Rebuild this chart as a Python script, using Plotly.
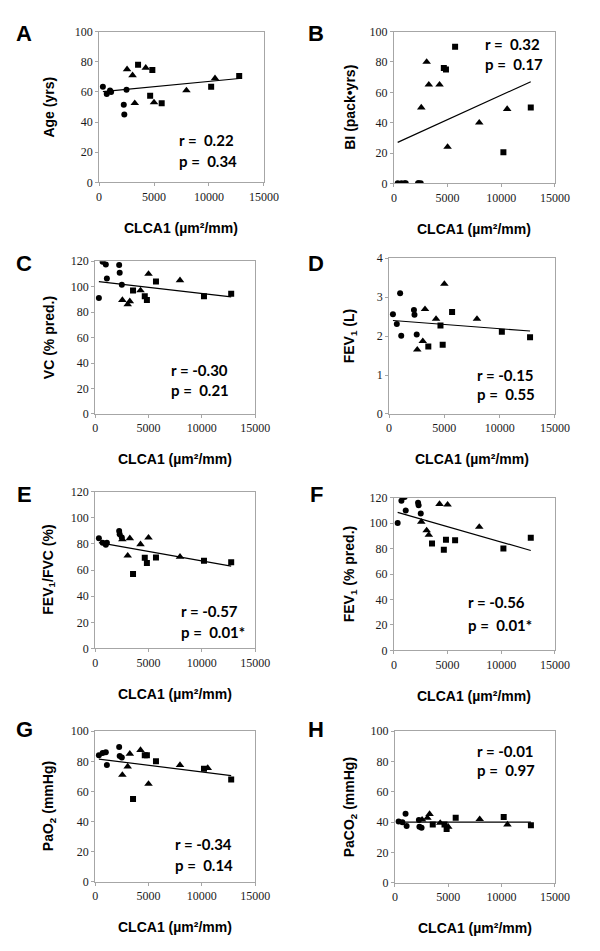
import plotly.graph_objects as go

# ---------------- data ----------------
x_circle = [350, 700, 1000, 1100, 2250, 2300, 2500]
x_triangle = [2550, 3050, 3250, 4250, 5000, 7950, 10550]
x_square = [3550, 4650, 4850, 5700, 10200, 12750]

age_circle = [63.5, 58.7, 61, 60, 51.5, 45, 61.5]
age_triangle = [75, 71, 52.5, 76, 53, 61, 69]
age_square = [78, 57.5, 74.5, 52.5, 63.5, 70.5]

bi_circle = [0, 0, 0, 0, 0, 0, 0]
bi_triangle = [50, 80, 65, 65, 24, 40, 49]
bi_square = [None, 76, 75, 90, 20.5, 50]

vc_circle = [91, 119.5, 117.5, 106.5, 117, 111, 101.5]
vc_triangle = [89.5, 86, 88.5, 97, 110, 105, None]
vc_square = [97, 92.5, 89.5, 104, 92.5, 94.5]

fev1_circle = [2.56, 2.31, 3.10, 2.01, 2.67, 2.55, 2.04]
fev1_triangle = [1.65, 1.87, 2.69, 2.44, 3.34, 2.44, None]
fev1_square = [1.73, 2.27, 1.78, 2.62, 2.11, 1.97]

ratio_circle = [84.3, 81, 79.5, 81, 90, 87.5, 85]
ratio_triangle = [83.5, 71, 84.3, 79.7, 84.8, 70.2, None]
ratio_square = [57, 69.5, 65.5, 69.7, 67.2, 66]

fevp_circle = [100, 117.5, 120.5, 110, 116, 114, 107.5]
fevp_triangle = [101, 94.3, 90.7, 115, 114.5, 97, None]
fevp_square = [84, 79, 87, 86.5, 80, 88.5]

pao2_circle = [84, 85.5, 86, 77.5, 89.5, 83.5, 82.5]
pao2_triangle = [71, 76.5, 85, 87.5, 65, 77.5, 75.5]
pao2_square = [55, 84, 84, 80, 75, 68]

paco2_circle = [40.5, 40, 45.5, 37.5, 41.5, 37, 36.3]
paco2_triangle = [41.7, 42.8, 45.4, 39.5, 37, 42, 38.5]
paco2_square = [38.5, 38.5, 35.5, 43, 43.5, 38]

trend_age = [60.2, 68.9]
trend_bi = [27, 67]
trend_vc = [104, 92]
trend_fev1 = [2.40, 2.13]
trend_ratio = [81, 63]
trend_fevp = [108.5, 78.5]
trend_pao2 = [81.5, 70.5]
trend_paco2 = [40, 40]

panel_letters = ["A", "B", "C", "D", "E", "F", "G", "H"]
y_titles = ["Age (yrs)", "BI (pack\u2022yrs)", "VC (% pred.)", "FEV<sub>1</sub> (L)",
            "FEV<sub>1</sub>/FVC (%)", "FEV<sub>1</sub> (% pred.)",
            "PaO<sub>2</sub> (mmHg)", "PaCO<sub>2</sub> (mmHg)"]
r_texts = ["r =\u00a0\u00a00.22", "r =\u00a0\u00a00.32", "r = -0.30", "r = -0.15",
           "r = -0.57", "r = -0.56", "r = -0.34", "r = -0.01"]
p_texts = ["p =\u00a0\u00a00.34", "p =\u00a0\u00a00.17", "p =\u00a0\u00a00.21", "p =\u00a0\u00a00.55",
           "p =\u00a0\u00a00.01*", "p =\u00a0\u00a00.01*", "p =\u00a0\u00a00.14", "p =\u00a0\u00a00.97"]
y_max = [100, 100, 120, 4, 120, 120, 100, 100]
y_dtick = [20, 20, 20, 1, 20, 20, 20, 20]
x_tickvals = [0, 5000, 10000, 15000]
x_ticktext = ["0", "5000", "10000", "15000"]
x_title = "CLCA1 (\u00b5m\u00b2/mm)"

series = [
    (age_circle, age_triangle, age_square, trend_age),
    (bi_circle, bi_triangle, bi_square, trend_bi),
    (vc_circle, vc_triangle, vc_square, trend_vc),
    (fev1_circle, fev1_triangle, fev1_square, trend_fev1),
    (ratio_circle, ratio_triangle, ratio_square, trend_ratio),
    (fevp_circle, fevp_triangle, fevp_square, trend_fevp),
    (pao2_circle, pao2_triangle, pao2_square, trend_pao2),
    (paco2_circle, paco2_triangle, paco2_square, trend_paco2),
]

# ---------------- layout geometry (px) ----------------
W, H = 600, 951
boxes = [  # left, right, top, bottom
    (99, 269, 25, 178), (403, 569, 25, 179),
    (95, 260, 258, 413), (398, 569, 255, 413),
    (95, 260, 492, 651), (403, 569, 498, 653),
    (95, 260, 735, 888), (404, 569, 735, 889),
]
letter_pos = [(22, 27), (323, 27), (22, 260), (323, 260),
              (22, 495), (323, 495), (22, 733), (323, 733)]
ytitle_x = [47, 358, 47, 358, 47, 358, 47, 358]
rp_pos = [(179, 135, 156), (495, 38, 58), (171, 368, 389), (487, 373, 393),
          (181, 613, 634), (477, 604, 627), (175, 850, 871), (487, 755, 774)]


def px(x):
    return x / W


def py(y):
    return 1 - y / H


fig = go.Figure()
all_x = x_circle + x_triangle + x_square
tx = [min(all_x), max(all_x)]
annotations = []
layout_axes = {}
tick_font = dict(family="Liberation Serif, serif", size=12, color="#1a1a1a")
for i, (circ, tri, sq, trend) in enumerate(series):
    n = "" if i == 0 else str(i + 1)
    xa, ya = "x" + n, "y" + n
    for xs, ys, sym, size in [(x_circle, circ, "circle", 6),
                              (x_triangle, tri, "triangle-up", 7.5),
                              (x_square, sq, "square", 6)]:
        fig.add_trace(go.Scatter(x=xs, y=ys, mode="markers", xaxis=xa, yaxis=ya,
                                 marker=dict(symbol=sym, size=size, color="black"),
                                 showlegend=False, hoverinfo="skip"))
    fig.add_trace(go.Scatter(x=tx, y=trend, mode="lines", xaxis=xa, yaxis=ya,
                             line=dict(color="black", width=1.2),
                             showlegend=False, hoverinfo="skip"))
    l, r, t, b = boxes[i]
    axis_common = dict(showline=True, linecolor="#a6a6a6", linewidth=1, mirror=True,
                       showgrid=False, zeroline=False, ticks="outside", ticklen=3,
                       tickcolor="#a6a6a6", tickfont=tick_font, color="#1a1a1a")
    layout_axes["xaxis" + n] = dict(domain=[px(l), px(r)], range=[0, 15000],
                                    tickvals=x_tickvals, ticktext=x_ticktext,
                                    anchor=ya, **axis_common)
    layout_axes["yaxis" + n] = dict(domain=[py(b), py(t)], range=[0, y_max[i]],
                                    dtick=y_dtick[i], tick0=0, anchor=xa, **axis_common)
    lx, ly = letter_pos[i]
    annotations.append(dict(text=panel_letters[i], x=px(lx), y=py(ly), xref="paper", yref="paper",
                            showarrow=False, xanchor="center", yanchor="middle",
                            font=dict(family="Liberation Sans", size=22, color="black", weight="bold")))
    annotations.append(dict(text=y_titles[i], x=px(ytitle_x[i]), y=py((t + b) / 2),
                            xref="paper", yref="paper", textangle=-90, showarrow=False,
                            xanchor="center", yanchor="middle",
                            font=dict(family="Liberation Sans", size=14, color="black", weight="bold")))
    annotations.append(dict(text=x_title, x=px((l + r) / 2), y=py(b + 46),
                            xref="paper", yref="paper", showarrow=False,
                            xanchor="center", yanchor="middle",
                            font=dict(family="Liberation Sans", size=14, color="black", weight="bold")))
    rx, ry, pyy = rp_pos[i]
    annotations.append(dict(text=r_texts[i], x=px(rx), y=py(ry), xref="paper", yref="paper",
                            showarrow=False, xanchor="left", yanchor="middle",
                            font=dict(family="Lato", size=15, color="black", weight="bold")))
    annotations.append(dict(text=p_texts[i], x=px(rx), y=py(pyy), xref="paper", yref="paper",
                            showarrow=False, xanchor="left", yanchor="middle",
                            font=dict(family="Lato", size=15, color="black", weight="bold")))

fig.update_layout(width=W, height=H, margin=dict(l=0, r=0, t=0, b=0),
                  paper_bgcolor="white", plot_bgcolor="white",
                  font=dict(family="Liberation Serif, serif", color="#1a1a1a"),
                  annotations=annotations, **layout_axes)

fig.write_html("out.html",
               config={"displayModeBar": False},
               post_script="document.body.style.margin='0';"
                           "document.body.style.padding='0';"
                           "document.documentElement.style.overflow='hidden';")
